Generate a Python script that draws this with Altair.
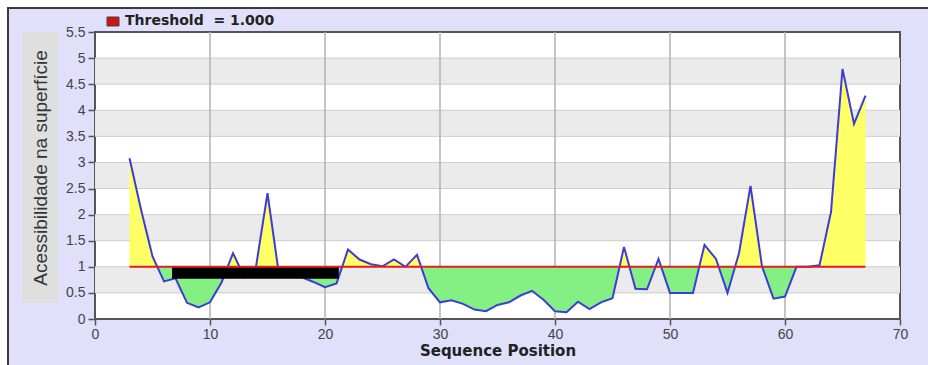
import altair as alt
import pandas as pd

# Surface accessibility profile (Emini-style) per residue position
positions = list(range(3, 68))
accessibility = [
    3.08, 2.10, 1.20, 0.72, 0.78, 0.31, 0.22, 0.32, 0.70, 1.26,
    0.80, 1.00, 2.41, 0.85, 0.85, 0.80, 0.71, 0.61, 0.68, 1.33,
    1.14, 1.05, 1.01, 1.14, 1.00, 1.23, 0.59, 0.32, 0.36, 0.29,
    0.18, 0.15, 0.27, 0.32, 0.45, 0.54, 0.37, 0.15, 0.13, 0.33,
    0.19, 0.32, 0.40, 1.38, 0.58, 0.57, 1.15, 0.50, 0.50, 0.50,
    1.42, 1.15, 0.50, 1.26, 2.55, 1.01, 0.39, 0.43, 1.00, 1.00,
    1.03, 2.05, 4.79, 3.74, 4.28,
]
threshold = 1.0

# Highlighted segment (black bar under the threshold)
segment_start = [6.7]
segment_end = [21.2]
segment_low = [0.77]
segment_high = [1.0]

x_ticks = [0, 10, 20, 30, 40, 50, 60, 70]
y_ticks = [0, 0.5, 1, 1.5, 2, 2.5, 3, 3.5, 4, 4.5, 5, 5.5]

W, H = 805, 287
PAD_L, PAD_T, PAD_R, PAD_B = 95, 32, 28, 46

LAVENDER = "#e0e0fa"
BAND_GREY = "#ebebeb"
YELLOW = "#ffff66"
GREEN = "#84f084"
BLUE = "#3c3cd8"
RED = "#e01e1e"

profile = pd.DataFrame({"pos": positions, "val": accessibility})

# Insert threshold crossings so that the two-colour fill follows the line exactly
fill_rows = []
for i in range(len(positions)):
    x0, v0 = positions[i], accessibility[i]
    fill_rows.append((x0, v0))
    if i + 1 < len(positions):
        x1, v1 = positions[i + 1], accessibility[i + 1]
        if (v0 - threshold) * (v1 - threshold) < 0:
            t = (threshold - v0) / (v1 - v0)
            fill_rows.append((x0 + t * (x1 - x0), threshold))
fill = pd.DataFrame(fill_rows, columns=["pos", "val"])
fill["above"] = fill["val"].clip(lower=threshold)
fill["below"] = fill["val"].clip(upper=threshold)
fill["thr"] = threshold

xs = alt.Scale(domain=[0, 70], nice=False)
ys = alt.Scale(domain=[0, 5.5], nice=False)

# Shared axis definitions, used identically by every layer so they merge cleanly
x_axis = alt.Axis(
    values=x_ticks, title="Sequence Position", grid=False, domain=False,
    tickColor="#555555", tickSize=6, tickWidth=1.5,
    labelFont="Liberation Sans", labelFontSize=14, labelColor="#444444",
    labelPadding=2, labelFlush=False, labelOverlap=False,
    titleFont="DejaVu Sans", titleFontWeight="bold", titleFontSize=15,
    titleColor="#222222", titlePadding=2,
)
y_axis = alt.Axis(
    values=y_ticks, title=None, grid=False, domain=False, format="~g",
    tickColor="#555555", tickSize=7, tickWidth=1.5,
    labelFont="Liberation Sans", labelFontSize=14, labelColor="#444444",
    labelPadding=3, labelFlush=False, labelOverlap=False,
)


def X(field):
    return alt.X(field, scale=xs, axis=x_axis)


def Y(field):
    return alt.Y(field, scale=ys, axis=y_axis)


# Alternating horizontal background bands
bands = pd.DataFrame(
    [{"lo": y_ticks[k], "hi": y_ticks[k + 1]} for k in range(len(y_ticks) - 1) if k % 2 == 1]
)
band_layer = alt.Chart(bands).mark_rect(color=BAND_GREY).encode(
    x=alt.value(0), x2=alt.value(W), y=Y("lo:Q"), y2="hi:Q",
)

hgrid = alt.Chart(pd.DataFrame({"y": y_ticks[1:-1]})).mark_rule(
    color="#cdcdcd", strokeWidth=1
).encode(y=Y("y:Q"), x=alt.value(0), x2=alt.value(W))

vgrid = alt.Chart(pd.DataFrame({"x": x_ticks[1:-1]})).mark_rule(
    color="#b2b2b2", strokeWidth=1.5
).encode(x=X("x:Q"), y=alt.value(0), y2=alt.value(H))

yellow = alt.Chart(fill).mark_area(color=YELLOW, opacity=1).encode(
    x=X("pos:Q"), y=Y("above:Q"), y2="thr:Q"
)
green = alt.Chart(fill).mark_area(color=GREEN, opacity=1).encode(
    x=X("pos:Q"), y=Y("below:Q"), y2="thr:Q"
)

line = alt.Chart(profile).mark_line(color=BLUE, strokeWidth=2).encode(
    x=X("pos:Q"), y=Y("val:Q"),
)

segment = alt.Chart(
    pd.DataFrame({"x0": segment_start, "x1": segment_end, "y0": segment_low, "y1": segment_high})
).mark_rect(color="#000000").encode(
    x=X("x0:Q"), x2="x1:Q", y=Y("y0:Q"), y2="y1:Q",
)

thr_line = alt.Chart(
    pd.DataFrame({"x0": [positions[0]], "x1": [positions[-1]], "y": [threshold]})
).mark_rule(color=RED, strokeWidth=2).encode(
    x=X("x0:Q"), x2="x1:Q", y=Y("y:Q")
)

one = alt.Data(values=[{"k": 0}])

# Outer frame: white margin and dark border at top/left
top_strip = alt.Chart(one).mark_rect(color="white").encode(
    x=alt.value(-PAD_L), x2=alt.value(W + PAD_R), y=alt.value(-PAD_T), y2=alt.value(-PAD_T + 7)
)
left_strip = alt.Chart(one).mark_rect(color="white").encode(
    x=alt.value(-PAD_L), x2=alt.value(-PAD_L + 7), y=alt.value(-PAD_T), y2=alt.value(H + PAD_B)
)
top_border = alt.Chart(one).mark_rule(color="#3a3a3a", strokeWidth=2).encode(
    x=alt.value(-PAD_L + 7), x2=alt.value(W + PAD_R), y=alt.value(-PAD_T + 8)
)
left_border = alt.Chart(one).mark_rule(color="#3a3a3a", strokeWidth=2).encode(
    x=alt.value(-PAD_L + 8), y=alt.value(-PAD_T + 7), y2=alt.value(H + PAD_B)
)

# Y title in a grey box
ybox = alt.Chart(one).mark_rect(color="#dfdfdf").encode(
    x=alt.value(-73), x2=alt.value(-36), y=alt.value(0), y2=alt.value(271)
)
ytitle = alt.Chart(alt.Data(values=[{"t": "Acessibilidade na superfície"}])).mark_text(
    angle=270, font="Liberation Sans", fontSize=19, color="#333333",
    align="center", baseline="middle",
).encode(text="t:N", x=alt.value(-54.5), y=alt.value(136))

# Legend entry
legend_sq = alt.Chart(one).mark_rect(color="#d01414", stroke="#444444", strokeWidth=1).encode(
    x=alt.value(12), x2=alt.value(24), y=alt.value(-15), y2=alt.value(-6)
)
legend_txt = alt.Chart(alt.Data(values=[{"t": "Threshold\u00a0\u00a0= 1.000"}])).mark_text(
    font="DejaVu Sans", fontWeight="bold", fontSize=14, color="#222222",
    align="left", baseline="middle",
).encode(text="t:N", x=alt.value(30), y=alt.value(-11))

chart = alt.layer(
    band_layer, hgrid, vgrid, yellow, green, line, segment, thr_line,
    top_strip, left_strip, top_border, left_border, ybox, ytitle, legend_sq, legend_txt,
).properties(
    width=W, height=H,
    autosize=alt.AutoSizeParams(type="none"),
    padding={"left": PAD_L, "top": PAD_T, "right": PAD_R, "bottom": PAD_B},
    background=LAVENDER,
).configure_view(
    fill="white", stroke="#555555", strokeWidth=2
)

chart.save("out.html", embed_options={"renderer": "svg", "actions": False})
